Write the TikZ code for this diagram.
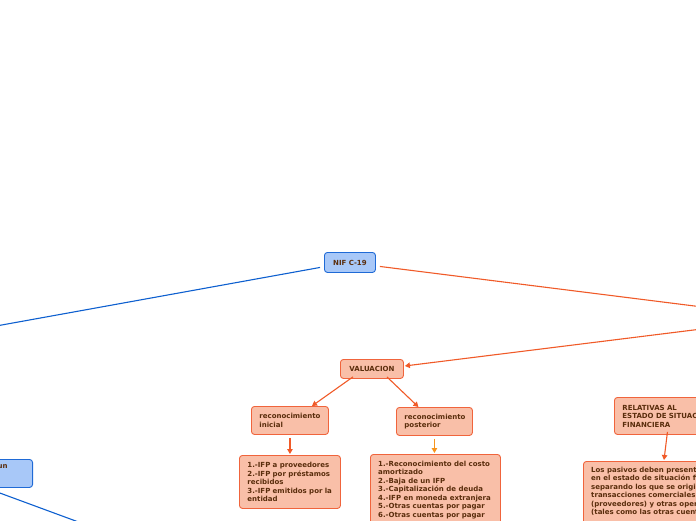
\documentclass[tikz,border=0pt]{standalone}
\usepackage{fontspec}
\setmainfont{DejaVu Sans}
\usetikzlibrary{arrows.meta}
\definecolor{ofill}{HTML}{F9BFA8}
\definecolor{oborder}{HTML}{F0643C}
\definecolor{oline}{HTML}{F05A28}
\definecolor{oyel}{HTML}{F7941D}
\definecolor{bfill}{HTML}{A8C8F8}
\definecolor{bborder}{HTML}{1F6AD6}
\definecolor{bline}{HTML}{0D5FCF}
\definecolor{tbrown}{HTML}{5A2D0C}
\tikzset{
  boxbase/.style={rounded corners=3pt, line width=0.9pt, anchor=north west,
    text=tbrown, font=\bfseries\fontsize{7}{8.5}\selectfont, inner xsep=8pt, inner ysep=3pt},
  obox/.style={boxbase, draw=oborder, fill=ofill, align=left},
  bbox/.style={boxbase, draw=bborder, fill=bfill, align=center},
  txt/.style={anchor=north west, text=tbrown, font=\bfseries\fontsize{7}{8.5}\selectfont,
    align=left, inner sep=0pt},
  oconn/.style={draw=oline, line width=1.1pt},
  bconn/.style={draw=bline, line width=1.1pt},
  tip/.style={-{Triangle[length=5pt,width=5.5pt]}}
}
\begin{document}
\begin{tikzpicture}[x=1pt,y=-1pt]
\useasboundingbox (0,0) rectangle (696,520);
\clip (0,0) rectangle (696,520);

% hidden ends (outside the visible area)
\coordinate (rhid) at (790,318);
\coordinate (lhid) at (-120,347);
\coordinate (bhid) at (130,541);

% nodes
\node[bbox, text width=35pt, minimum height=20pt] (nif) at (324,252) {NIF C-19};
\node[obox, align=center, text width=47pt, minimum height=19pt] (val) at (340,359) {VALUACION};
\node[obox, text width=61pt, minimum height=28pt] (ri) at (251,406) {reconocimiento\\inicial};
\node[obox, text width=60pt, minimum height=28pt] (rp) at (396,407) {reconocimiento\\posterior};
\node[obox, text width=85pt, minimum height=53pt] (l1) at (239,455)
  {1.-IFP a proveedores\\2.-IFP por préstamos\\recibidos\\3.-IFP emitidos por la\\entidad};
\node[obox, text width=114pt, minimum height=100pt] (l2) at (370,454) {};
\node[txt] (l2t) at (378,460.5)
  {1.-Reconocimiento del costo\\amortizado\\2.-Baja de un IFP\\3.-Capitalización de deuda\\4.-IFP en moneda extranjera\\5.-Otras cuentas por pagar\\6.-Otras cuentas por pagar};
\node[obox, text width=100pt, minimum height=37pt] (rel) at (614,397)
  {RELATIVAS AL\\ESTADO DE SITUACION\\FINANCIERA};
\node[obox, text width=150pt, minimum height=90pt] (pas) at (583,461) {};
\node[txt] (past) at (591,466.5)
  {Los pasivos deben presentarse\\en el estado de situación financiera\\separando los que se originan\\transacciones comerciales\\(proveedores) y otras operaciones\\(tales como las otras cuentas};
\node[bbox, anchor=north east, text width=100pt, minimum height=28pt] (lb) at (33,459) {};
\node[txt] (lbt) at (-2.5,464.5) {un};

% connectors
\draw[oconn] ([shift={(4,4)}]nif.east) -- (rhid);
\draw[oconn, tip] (rhid) -- ([shift={(1,-3)}]val.east);
\draw[bconn] ([shift={(-4,5)}]nif.west) -- (lhid);
\draw[bconn] ([xshift=-14pt]lb.south east) ++(-33,0) -- (bhid);
\draw[oconn, tip] ([shift={(-19,-2)}]val.south) -- ([xshift=22pt]ri.north);
\draw[oconn, tip] ([shift={(15,-2)}]val.south) -- ([xshift=-16pt]rp.north);
\draw[oconn, tip] ([yshift=-3pt]ri.south) -- ([yshift=1pt]l1.north);
\draw[draw=oyel, line width=1.1pt, tip] ([yshift=-3pt]rp.south) -- ([xshift=-1pt,yshift=1pt]l2.north);
\draw[oconn, tip] ([shift={(-5,-3)}]rel.south) coordinate (relb) -- ([xshift=81pt,yshift=1pt]pas.north west);
\end{tikzpicture}
\end{document}
